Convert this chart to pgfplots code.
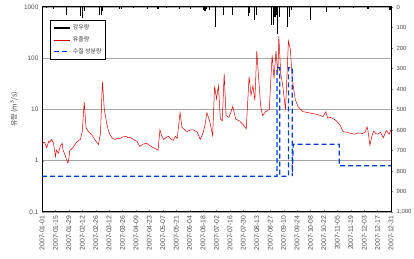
\documentclass[border=0pt]{standalone}
\usepackage{fontspec}
\setmainfont{Liberation Sans}
\newfontfamily\kr{Noto Sans CJK KR}
\usepackage{pgfplots}
\pgfplotsset{compat=1.18}
\begin{document}
\begin{tikzpicture}[x=1pt,y=1pt]
\useasboundingbox (0,0) rectangle (414,259);
\begin{axis}[
  at={(42pt,47pt)}, anchor=south west,
  scale only axis, width=349pt, height=205pt,
  xmin=0, xmax=364,
  ymode=log, ymin=0.1, ymax=1000,
  xtick={0,14,...,364},
  xticklabels={2007-01-01,2007-01-15,2007-01-29,2007-02-12,2007-02-26,2007-03-12,2007-03-26,2007-04-09,2007-04-23,2007-05-07,2007-05-21,2007-06-04,2007-06-18,2007-07-02,2007-07-16,2007-07-30,2007-08-13,2007-08-27,2007-09-10,2007-09-24,2007-10-08,2007-10-22,2007-11-05,2007-11-19,2007-12-03,2007-12-17,2007-12-31},
  x tick label style={rotate=90, anchor=east, font=\fontsize{6.8}{7}\selectfont, text=black!70},
  ytick={0.1,1,10,100,1000},
  yticklabels={0.1,1,10,100,1000},
  y tick label style={font=\fontsize{6.5}{7}\selectfont, text=black!70},
  yminorticks=false,
  xtick pos=bottom, ytick pos=left,
  tick align=inside, major tick length=2pt,
  tick style={black!50},
  ymajorgrids, grid style={black!35, line width=0.5pt},
  axis line style={black, line width=1pt},
  ylabel={\kr 유량 (m\textsuperscript{3}/s)},
  ylabel style={at={(axis description cs:-0.08,0.5)}, anchor=center, font=\fontsize{7}{8}\selectfont, text=black!75},
  legend style={at={(axis description cs:0.023,0.935)}, anchor=north west, font=\kr\fontsize{6}{7}\selectfont, draw=black, line width=0.5pt, inner sep=2pt, row sep=1.5pt, text=black!75},
  legend image code/.code={\draw[#1] (0pt,0pt) -- (16pt,0pt);},
  legend cell align=left,
]
\addlegendimage{black, line width=2.5pt}
\addlegendentry{강우량}
\addplot[red!85!black, line width=0.5pt] coordinates {
(0,2.1)(2,2.3)(3,2.2)(5,1.8)(7,2.4)(8,2.3)(10,2.6)(12,2.2)(14,1.2)(15,1.6)(17,1.4)(19,1.9)(21,2.2)(22,1.6)(24,1.3)(26,1.0)(27,0.9)(28,1.1)(29,1.6)(31,1.7)(33,1.9)(36,2.3)(40,2.6)(42,3.7)(44,14)(46,4.4)(48,3.8)(50,3.5)(53,3.0)(55,2.6)(57,2.3)(59,2.1)(61,3.5)(63,35)(65,10)(67,6)(69,4.0)(71,3.2)(73,2.8)(76,2.6)(78,2.7)(81,2.7)(84,2.9)(88,3.0)(90,2.8)(92,2.9)(95,2.6)(99,2.4)(102,1.9)(105,2.1)(109,2.2)(112,2.0)(116,1.8)(119,1.7)(121,1.6)(123,4.0)(125,3.0)(127,2.6)(130,2.9)(132,3.0)(135,2.6)(137,2.5)(139,3.0)(141,2.7)(144,8.7)(146,4.5)(149,4.0)(151,3.7)(155,4.0)(158,4.0)(162,3.6)(165,2.6)(168,3.5)(170,5)(172,8.7)(175,5.8)(178,3.1)(180,29)(182,16)(184,29)(186,6.6)(188,6)(190,50)(192,7.6)(195,7)(199,11.4)(202,6.5)(206,6)(210,5)(213,4.2)(216,44)(218,19)(220,29)(222,15)(224,137)(226,40)(228,12)(230,7.6)(233,9)(237,10)(240,115)(242,40)(244,137)(246,50)(247,270)(249,50)(251,30)(254,10)(257,215)(259,150)(261,40)(264,16)(267,11.4)(272,9.1)(280,8.5)(287,8)(293,7.3)(296,9)(298,6.8)(301,7)(304,6.6)(307,6)(311,4.9)(314,3.7)(318,3.6)(322,3.4)(326,3.3)(330,3.5)(334,3.4)(337,3.6)(339,4.6)(340,3.8)(342,2.0)(344,3.0)(346,3.8)(348,3.4)(350,3.3)(353,3.6)(356,2.8)(359,3.9)(362,3.3)(364,4.0)
};
\addlegendentry{유출량}
\addplot[blue!70!cyan!80!black, line width=1.2pt, dash pattern=on 5pt off 3pt] coordinates {
(0,0.5)(245,0.5)(245,65)(248,65)(248,0.5)(257,0.5)(257,65)(261,65)(261,0.5)(262,2.1)(310,2.1)(310,0.8)(364,0.8)
};
\addlegendentry{수질 성분량}
\end{axis}
\begin{axis}[
  at={(42pt,47pt)}, anchor=south west,
  scale only axis, width=349pt, height=205pt,
  xmin=0, xmax=364, ymin=0, ymax=1000, y dir=reverse,
  axis x line=none, axis y line*=right,
  axis line style={black, line width=1pt},
  ytick={0,100,...,1000},
  y tick label style={font=\fontsize{6}{7}\selectfont, text=black!70},
  /pgf/number format/assume math mode=true,
  tick align=outside, major tick length=2pt, tick style={black!50},
]
\addplot[ycomb, black, line width=1.1pt, mark=none] coordinates {
(5,5)(12,8)(26,40)(40,45)(42,55)(44,20)(60,40)(62,38)(63,20)(81,10)(83,8)(95,5)(110,8)(121,12)(130,6)(143,10)(155,8)(168,15)(170,20)(172,10)(175,15)(181,100)(189,40)(199,40)(215,45)(216,30)(222,65)(224,40)(239,90)(241,90)(243,50)(245,40)(246,130)(248,50)(256,100)(258,50)(260,15)(280,65)(297,25)(310,8)(325,5)(340,8)(363,15)
};
\end{axis}
\end{tikzpicture}
\end{document}
